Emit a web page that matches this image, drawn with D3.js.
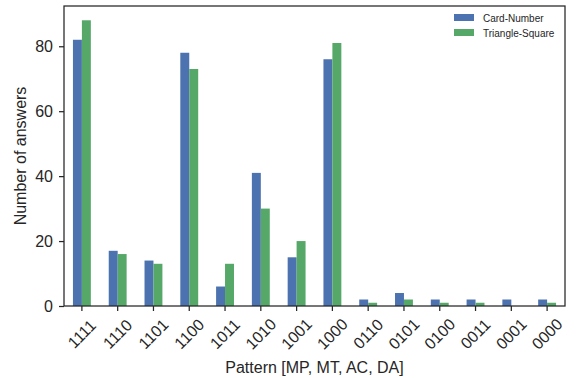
<!DOCTYPE html>
<html>
<head>
<meta charset="utf-8">
<script src="https://cdn.jsdelivr.net/npm/d3@7"></script>
<style>
  body { margin: 0; background: #fff; }
  svg { font-family: "Liberation Sans", Arial, sans-serif; }
</style>
</head>
<body>
<div id="chart"></div>
<script>
const patterns = ["1111", "1110", "1101", "1100", "1011", "1010", "1001", "1000", "0110", "0101", "0100", "0011", "0001", "0000"]
const seriesNames = ["Card-Number", "Triangle-Square"]
const cardNumber = [82, 17, 14, 78, 6, 41, 15, 76, 2, 4, 2, 2, 2, 2]
const triangleSquare = [88, 16, 13, 73, 13, 30, 20, 81, 1, 2, 1, 1, 0, 1]
const yTicks = [0, 20, 40, 60, 80]
const colors = ["#4c72b0", "#55a868"]

const width = 576
const height = 378
const margin = { top: 6, right: 11, bottom: 72, left: 64 }
const innerW = width - margin.left - margin.right
const innerH = height - margin.top - margin.bottom

const rows = patterns.map((p, i) => ({ pattern: p, values: [cardNumber[i], triangleSquare[i]] }))

const svg = d3.select("#chart")
  .append("svg")
  .attr("width", width)
  .attr("height", height)

const g = svg.append("g").attr("transform", `translate(${margin.left},${margin.top})`)

const x = d3.scaleBand()
  .domain(patterns)
  .range([0, innerW])
  .paddingInner(0.5)
  .paddingOuter(0.25)

const xSub = d3.scaleBand()
  .domain(seriesNames)
  .range([0, x.bandwidth()])

const y = d3.scaleLinear()
  .domain([0, 88 * 1.05])
  .range([innerH, 0])

// bars
const groups = g.append("g")
  .selectAll("g")
  .data(rows)
  .enter()
  .append("g")
  .attr("transform", (d) => `translate(${x(d.pattern)},0)`)

groups.selectAll("rect")
  .data((d) => d.values.map((v, j) => ({ name: seriesNames[j], value: v, j })))
  .enter()
  .append("rect")
  .attr("x", (d) => xSub(d.name))
  .attr("width", xSub.bandwidth())
  .attr("y", (d) => y(d.value))
  .attr("height", (d) => innerH - y(d.value))
  .attr("fill", (d) => colors[d.j])

// frame
g.append("rect")
  .attr("x", 0)
  .attr("y", 0)
  .attr("width", innerW)
  .attr("height", innerH)
  .attr("fill", "none")
  .attr("stroke", "#262626")
  .attr("stroke-width", 1.25)

// y axis
const yAxis = g.append("g")
  .call(d3.axisLeft(y).tickValues(yTicks).tickSize(5).tickPadding(6))
yAxis.select(".domain").remove()
yAxis.selectAll(".tick line").attr("stroke", "#262626").attr("stroke-width", 1.25)
yAxis.selectAll(".tick text")
  .attr("font-size", "16px")
  .attr("fill", "#262626")
  .attr("font-family", "Liberation Sans, Arial, sans-serif")

// x axis
const xAxis = g.append("g")
  .attr("transform", `translate(0,${innerH})`)
  .call(d3.axisBottom(x).tickSize(5).tickFormat(""))
xAxis.select(".domain").remove()
xAxis.selectAll(".tick line").attr("stroke", "#262626").attr("stroke-width", 1.25)

xAxis.selectAll(".tick")
  .append("text")
  .attr("transform", "translate(0,28) rotate(-45)")
  .attr("text-anchor", "middle")
  .attr("dominant-baseline", "central")
  .attr("font-size", "16px")
  .attr("fill", "#262626")
  .attr("font-family", "Liberation Sans, Arial, sans-serif")
  .text((d) => d)

// axis titles
svg.append("text")
  .attr("x", margin.left + innerW / 2)
  .attr("y", 373)
  .attr("text-anchor", "middle")
  .attr("font-size", "16px")
  .attr("fill", "#262626")
  .text("Pattern [MP, MT, AC, DA]")

svg.append("text")
  .attr("transform", `translate(26,${margin.top + innerH / 2}) rotate(-90)`)
  .attr("text-anchor", "middle")
  .attr("font-size", "16px")
  .attr("fill", "#262626")
  .text("Number of answers")

// legend
const legend = svg.append("g").attr("transform", "translate(454,14)")
seriesNames.forEach((name, i) => {
  const row = legend.append("g").attr("transform", `translate(0,${i * 15})`)
  row.append("rect")
    .attr("x", 0)
    .attr("y", 0)
    .attr("width", 20)
    .attr("height", 7)
    .attr("fill", colors[i])
  row.append("text")
    .attr("x", 29)
    .attr("y", 4)
    .attr("dominant-baseline", "central")
    .attr("font-size", "10px")
    .attr("fill", "#262626")
    .text(name)
})
</script>
</body>
</html>
